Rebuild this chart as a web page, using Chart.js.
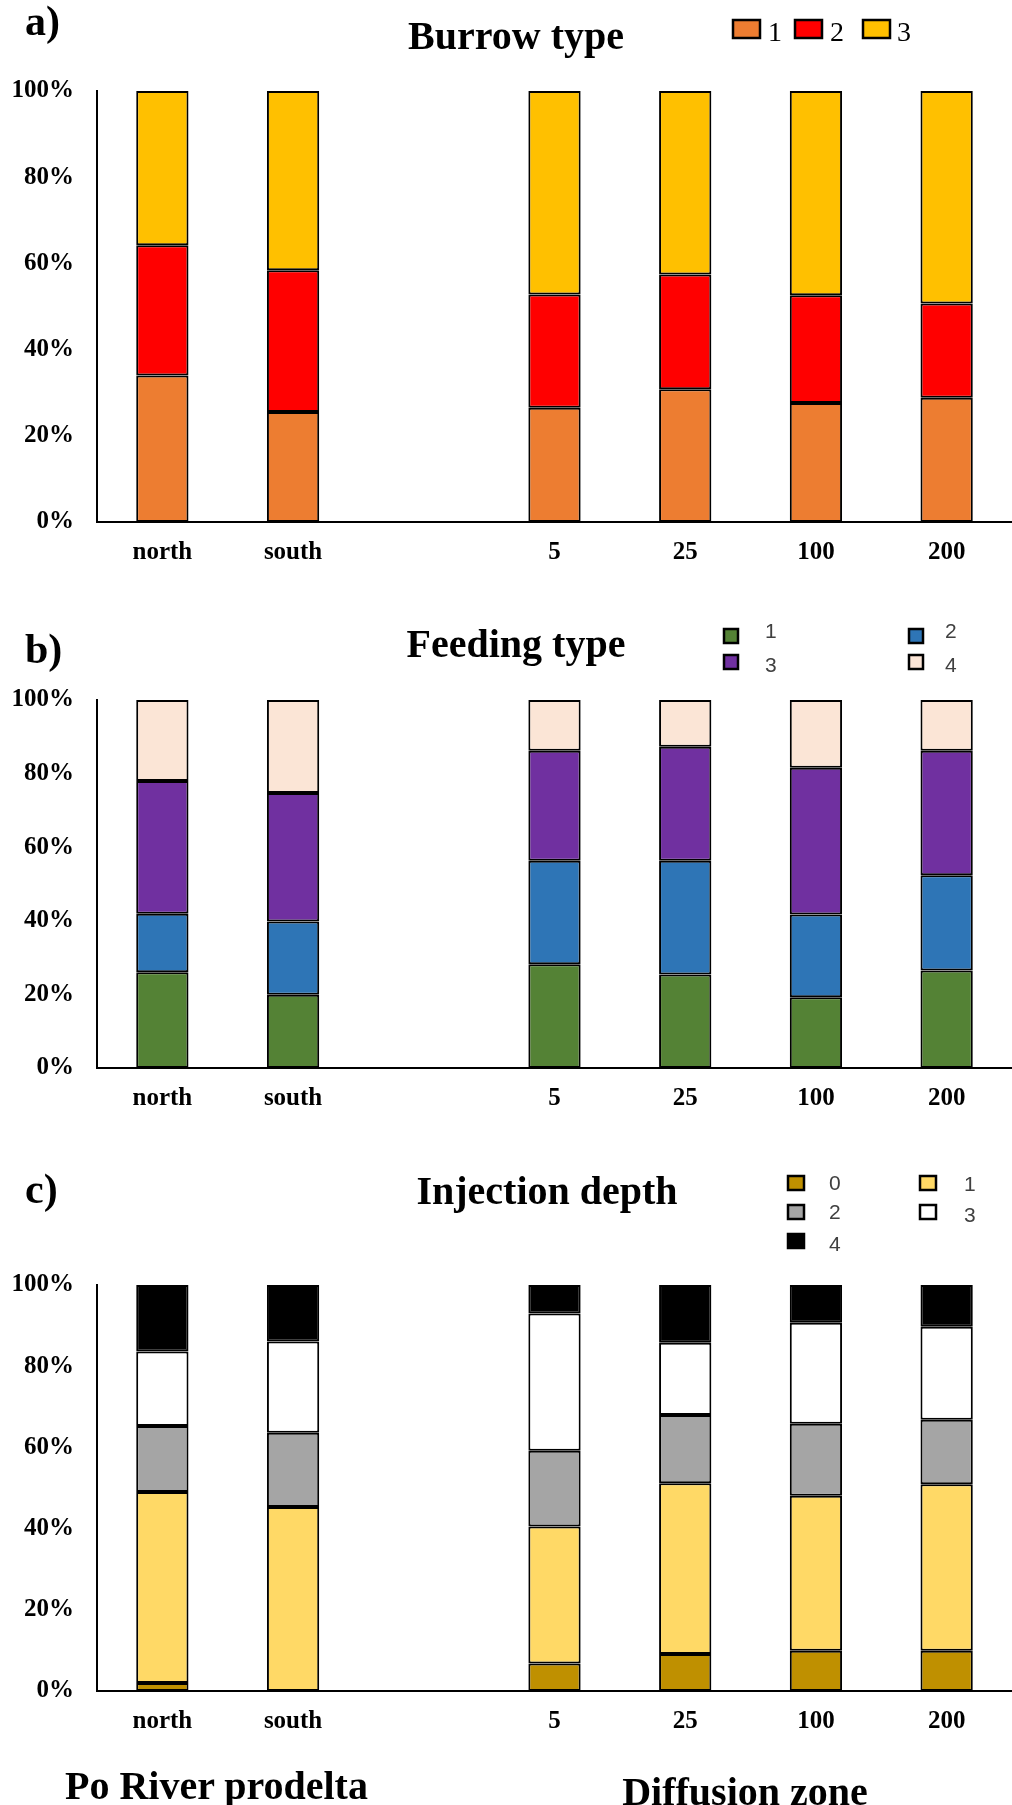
<!DOCTYPE html>
<html><head><meta charset="utf-8">
<script src="https://cdn.jsdelivr.net/npm/chart.js@4.4.0/dist/chart.umd.min.js"></script>
<style>
html,body{margin:0;padding:0;background:#fff;}
body{width:1012px;height:1805px;position:relative;overflow:hidden;}
.wrap{position:absolute;left:0;width:1012px;}
#ov{position:absolute;left:0;top:0;}
</style></head><body>
<div class="wrap" style="top:0;height:580px"><canvas id="ca"></canvas></div>
<div class="wrap" style="top:580px;height:550px"><canvas id="cb"></canvas></div>
<div class="wrap" style="top:1130px;height:630px"><canvas id="cc"></canvas></div>
<svg id="ov" width="1012" height="1805" xmlns="http://www.w3.org/2000/svg"></svg>
<script>
// ---- data ----
const categories = ['north', 'south', '', '5', '25', '100', '200'];
const yTicks = ['0%', '20%', '40%', '60%', '80%', '100%'];

const burrowLabels = ['1', '2', '3'];
const burrow1 = [34.0, 25.5, null, 26.5, 30.8, 27.6, 28.8];
const burrow2 = [30.2, 32.9, null, 26.3, 26.6, 25.0, 21.9];
const burrow3 = [35.8, 41.6, null, 47.2, 42.6, 47.4, 49.3];

const feedLabels = ['1', '2', '3', '4'];
const feed1 = [26.0, 19.9, null, 28.2, 25.4, 19.2, 26.5];
const feed2 = [15.9, 19.9, null, 28.1, 30.9, 22.5, 25.9];
const feed3 = [36.1, 34.9, null, 29.9, 31.0, 39.9, 33.8];
const feed4 = [22.0, 25.3, null, 13.8, 12.7, 18.4, 13.8];

const injLabels = ['0', '1', '2', '3', '4'];
const inj0 = [2.0, 0, null, 6.8, 9.1, 9.9, 9.9];
const inj1 = [47.0, 45.3, null, 33.7, 42.1, 38.2, 41.0];
const inj2 = [16.3, 18.3, null, 18.7, 16.8, 17.7, 15.9];
const inj3 = [18.3, 22.5, null, 33.8, 17.8, 24.9, 22.9];
const inj4 = [16.4, 13.9, null, 7.0, 14.2, 9.3, 10.3];

// ---- styles ----
const burrowColors = ['#ED7D31', '#FF0000', '#FFC000'];
const feedColors = ['#548235', '#2E75B6', '#7030A0', '#FBE5D6'];
const injColors = ['#BF9000', '#FFD966', '#A5A5A5', '#FFFFFF', '#000000'];
const SERIF = "'Liberation Serif','Times New Roman',serif";
const SANS = "'Liberation Sans',Arial,sans-serif";

function ds(labels, series, colors) {
  return series.map((d, i) => ({
    label: labels[i], data: d, backgroundColor: colors[i],
    borderColor: '#000', borderWidth: 2, borderSkipped: false,
    categoryPercentage: 1, barPercentage: 0.4
  }));
}

function makeChart(id, datasets, padTop, axisH) {
  return new Chart(document.getElementById(id), {
    type: 'bar',
    data: { labels: categories, datasets },
    options: {
      responsive: true, maintainAspectRatio: false, animation: false,
      layout: { padding: { top: padTop, left: 0, right: 0, bottom: 0 } },
      plugins: { legend: { display: false }, tooltip: { enabled: false } },
      scales: {
        x: {
          stacked: true,
          grid: { display: false, drawTicks: false },
          border: { display: true, color: '#000', width: 2 },
          ticks: { color: '#000', font: { family: SERIF, size: 25, weight: 'bold' }, padding: 16, autoSkip: false, maxRotation: 0 },
          afterFit: s => { s.height = axisH; }
        },
        y: {
          stacked: true, min: 0, max: 100,
          grid: { display: false, drawTicks: false },
          border: { display: true, color: '#000', width: 2 },
          ticks: { stepSize: 20, color: '#000', padding: 23,
                   font: { family: SERIF, size: 25, weight: 'bold' },
                   callback: (v) => yTicks[Math.round(v / 20)] },
          afterFit: s => { s.width = 97; }
        }
      }
    }
  });
}

makeChart('ca', ds(burrowLabels, [burrow1, burrow2, burrow3], burrowColors), 91, 58);
makeChart('cb', ds(feedLabels, [feed1, feed2, feed3, feed4], feedColors), 120, 62);
makeChart('cc', ds(injLabels, [inj0, inj1, inj2, inj3, inj4], injColors), 155, 69);

// ---- overlay text ----
const svg = document.getElementById('ov');
const NS = 'http://www.w3.org/2000/svg';
function txt(s, x, y, size, opts = {}) {
  const t = document.createElementNS(NS, 'text');
  t.textContent = s;
  t.setAttribute('x', x); t.setAttribute('y', y);
  t.setAttribute('font-size', size);
  t.setAttribute('font-family', opts.family || SERIF);
  t.setAttribute('font-weight', opts.weight || 'bold');
  t.setAttribute('fill', opts.fill || '#000');
  t.setAttribute('text-anchor', opts.anchor || 'start');
  svg.appendChild(t);
}
function box(x, y, w, h, fill, sw) {
  const r = document.createElementNS(NS, 'rect');
  r.setAttribute('x', x); r.setAttribute('y', y);
  r.setAttribute('width', w); r.setAttribute('height', h);
  r.setAttribute('fill', fill); r.setAttribute('stroke', '#000');
  r.setAttribute('stroke-width', sw);
  svg.appendChild(r);
}

// panel labels and titles
txt('a)', 25, 35, 42);
txt('Burrow type', 516, 49, 40, { anchor: 'middle' });
txt('b)', 25, 663, 42);
txt('Feeding type', 516, 657, 40, { anchor: 'middle' });
txt('c)', 25, 1203, 42);
txt('Injection depth', 547, 1204, 40, { anchor: 'middle' });
txt('Po River prodelta', 65, 1799, 40);
txt('Diffusion zone', 745, 1805, 40, { anchor: 'middle' });

// legend a
const legA = [[733, 768], [795, 830], [863, 897]];
burrowLabels.forEach((l, i) => {
  box(legA[i][0], 20, 27, 18, burrowColors[i], 2.5);
  txt(l, legA[i][1], 41, 28, { weight: 'normal' });
});
// legend b
const legB = [[724, 629, 765, 638], [909, 629, 945, 638], [724, 655, 765, 672], [909, 655, 945, 672]];
feedLabels.forEach((l, i) => {
  const p = legB[i];
  box(p[0], p[1], 14, 14, feedColors[i], 2.5);
  txt(l, p[2], p[3], 21, { family: SANS, weight: 'normal', fill: '#404040' });
});
// legend c
const legC = [[788, 1176, 829, 1190], [920, 1176, 964, 1191], [788, 1205, 829, 1219], [920, 1205, 964, 1222], [788, 1234, 829, 1251]];
injLabels.forEach((l, i) => {
  const p = legC[i];
  box(p[0], p[1], 16, 14, injColors[i], 2.5);
  txt(l, p[2], p[3], 21, { family: SANS, weight: 'normal', fill: '#404040' });
});
</script>
</body></html>
